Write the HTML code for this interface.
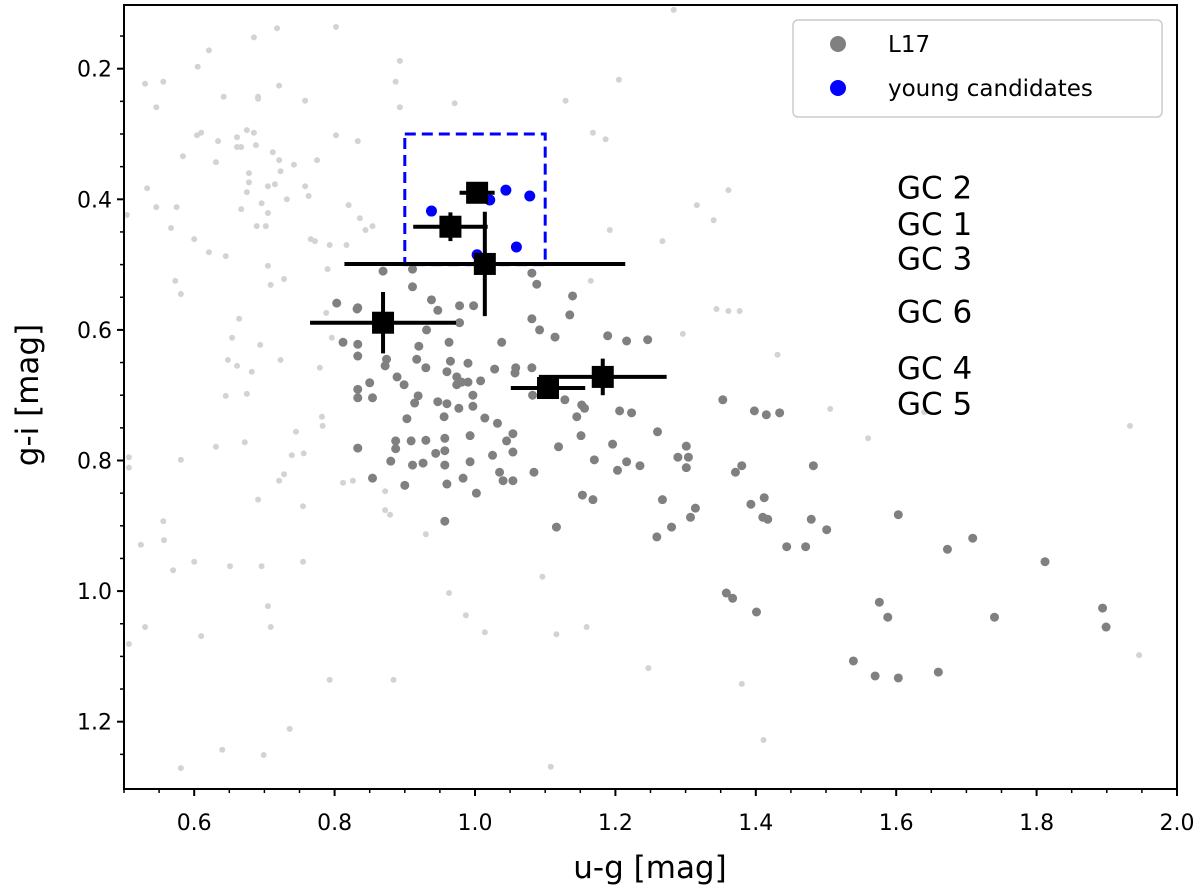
<!DOCTYPE html>
<html><head><meta charset="utf-8">
<style>
html,body{margin:0;padding:0;background:#fff;}
svg{display:block;font-family:"DejaVu Sans","Liberation Sans",sans-serif;}
</style></head>
<body>
<svg id="chart" width="1200" height="892" viewBox="0 0 1200 892"></svg>
<script>
// ---- data ----
const xTicks = [0.6,0.8,1.0,1.2,1.4,1.6,1.8,2.0];
const xTickLabels = ["0.6","0.8","1.0","1.2","1.4","1.6","1.8","2.0"];
const yTicks = [0.2,0.4,0.6,0.8,1.0,1.2];
const yTickLabels = ["0.2","0.4","0.6","0.8","1.0","1.2"];
const l17U = [0.911,0.803,0.833,0.938,0.947,0.978,0.998,0.978,0.931,0.812,0.833,0.833,0.920,0.963,1.038,0.874,0.872,0.917,0.930,0.965,0.990,0.960,0.974,0.981,0.990,1.008,0.974,1.028,1.058,1.057,1.081,0.889,0.899,0.850,0.833,0.833,0.854,0.919,0.914,0.947,0.960,0.997,0.997,0.977,0.956,0.903,1.014,1.032,1.081,1.092,1.114,1.088,1.081,1.139,1.135,1.189,1.216,1.246,1.082,1.128,1.152,1.156,1.145,1.206,1.223,1.260,1.151,1.119,1.196,1.170,1.216,1.235,1.203,1.301,1.289,1.304,1.301,1.267,1.153,1.168,1.084,1.054,1.045,1.054,1.025,1.035,1.040,1.054,1.002,0.993,0.993,0.983,0.960,0.957,0.957,0.957,0.944,0.930,0.909,0.887,0.887,0.880,0.911,0.926,0.833,0.854,0.900,0.957,1.116,1.314,1.307,1.280,1.259,1.353,1.398,1.415,1.434,1.371,1.380,1.482,1.393,1.412,1.410,1.417,1.479,1.501,1.444,1.471,1.603,1.673,1.709,1.812,1.358,1.367,1.401,1.576,1.588,1.740,1.894,1.899,1.539,1.570,1.603,1.660,0.869,0.911,0.832];
const l17G = [0.534,0.559,0.566,0.554,0.570,0.563,0.563,0.589,0.600,0.619,0.622,0.640,0.625,0.619,0.619,0.645,0.655,0.645,0.658,0.648,0.651,0.664,0.672,0.680,0.680,0.678,0.684,0.660,0.658,0.666,0.658,0.672,0.684,0.681,0.691,0.704,0.704,0.701,0.712,0.710,0.713,0.700,0.717,0.720,0.733,0.736,0.735,0.743,0.583,0.600,0.611,0.530,0.513,0.548,0.577,0.609,0.617,0.615,0.700,0.707,0.715,0.720,0.733,0.724,0.727,0.756,0.762,0.779,0.775,0.799,0.802,0.808,0.815,0.778,0.795,0.795,0.811,0.860,0.853,0.860,0.818,0.759,0.770,0.787,0.792,0.818,0.831,0.831,0.850,0.802,0.762,0.827,0.836,0.807,0.785,0.766,0.789,0.769,0.770,0.770,0.782,0.801,0.807,0.804,0.781,0.827,0.838,0.893,0.902,0.873,0.887,0.902,0.917,0.707,0.724,0.730,0.727,0.818,0.808,0.808,0.867,0.857,0.887,0.890,0.890,0.906,0.932,0.932,0.883,0.936,0.919,0.955,1.003,1.011,1.032,1.017,1.040,1.040,1.026,1.055,1.107,1.130,1.133,1.124,0.510,0.507,0.568];
const bgU = [0.718,0.802,0.685,0.621,0.605,0.893,0.530,0.556,0.721,0.887,0.642,0.691,0.691,0.758,0.546,0.893,0.604,0.610,0.675,0.685,0.661,0.802,0.833,0.634,0.661,0.667,0.688,0.584,0.712,0.721,0.631,0.742,0.775,0.723,0.678,0.678,0.675,0.705,0.715,0.758,0.533,0.763,0.732,0.696,0.546,0.575,0.667,0.705,0.820,0.504,0.836,0.689,0.702,0.567,0.854,0.844,0.600,0.766,0.772,0.793,0.817,0.621,0.645,0.705,0.790,0.728,0.573,0.709,0.581,0.788,0.664,0.654,0.796,0.694,0.648,0.723,0.661,0.682,0.779,0.645,0.675,0.782,0.783,0.745,0.672,0.631,0.507,0.507,0.581,0.739,0.756,0.728,0.721,0.812,0.826,0.872,0.872,0.879,0.691,0.755,0.556,0.524,0.557,0.570,0.600,0.651,0.696,0.755,0.705,0.530,0.709,0.610,0.507,0.793,0.884,0.736,0.640,0.699,0.581,0.930,0.963,0.987,1.014,1.096,1.116,1.159,1.247,1.380,1.411,1.108,1.946,1.283,1.205,0.971,1.129,1.168,1.186,1.361,1.316,1.340,1.192,1.267,1.165,1.344,1.361,1.377,1.296,1.431,1.506,1.560,1.933,1.640];
const bgG = [0.138,0.136,0.152,0.172,0.197,0.188,0.223,0.220,0.226,0.220,0.243,0.243,0.246,0.249,0.259,0.259,0.302,0.298,0.294,0.298,0.305,0.302,0.311,0.311,0.320,0.320,0.317,0.334,0.328,0.340,0.343,0.347,0.340,0.357,0.360,0.374,0.389,0.380,0.377,0.380,0.383,0.395,0.400,0.406,0.412,0.412,0.415,0.421,0.409,0.424,0.429,0.441,0.441,0.444,0.441,0.447,0.461,0.461,0.464,0.470,0.470,0.481,0.487,0.502,0.507,0.522,0.525,0.531,0.545,0.574,0.583,0.612,0.612,0.623,0.646,0.646,0.655,0.664,0.658,0.701,0.698,0.733,0.747,0.756,0.772,0.779,0.795,0.811,0.799,0.792,0.789,0.821,0.831,0.834,0.831,0.847,0.876,0.883,0.860,0.870,0.893,0.929,0.922,0.968,0.955,0.962,0.962,0.955,1.023,1.055,1.055,1.069,1.081,1.136,1.136,1.211,1.243,1.251,1.271,0.913,1.003,1.037,1.063,0.978,1.066,1.055,1.118,1.142,1.228,1.269,1.098,0.110,0.217,0.253,0.249,0.298,0.308,0.386,0.409,0.432,0.447,0.464,0.525,0.568,0.571,0.571,0.606,0.638,0.721,0.766,0.747,0.726];
const youngU = [0.938,1.021,1.044,1.078,1.059,1.003];
const youngG = [0.418,0.401,0.386,0.395,0.473,0.485];
const gcNames = ["GC 1","GC 2","GC 3","GC 4","GC 5","GC 6"];
const gcU = [0.965,1.003,1.014,1.182,1.104,0.869];
const gcG = [0.442,0.390,0.499,0.672,0.689,0.589];
const gcUErr = [0.053,0.025,0.200,0.091,0.053,0.104];
const gcGErr = [0.022,0.006,0.080,0.028,0.008,0.047];
const boxU = [0.9,1.1];
const boxG = [0.3,0.5];
const labelOrder = ["GC 2","GC 1","GC 3","GC 6","GC 4","GC 5"];
const labelG = [0.382,0.438,0.491,0.572,0.658,0.713];

// ---- axes ----
const L=124,R=1177,T=5,B=789;
const X0=0.5,X1=2.0;
const sx = v => L + (v-X0)/(X1-X0)*(R-L);
const sy = v => 134 + (v-0.3)*653;
const NS="http://www.w3.org/2000/svg";
const svg=document.getElementById('chart');
function mk(tag,attrs,parent){const e=document.createElementNS(NS,tag);for(const k in attrs)e.setAttribute(k,attrs[k]);(parent||svg).appendChild(e);return e;}

const gBg=mk('g',{});


bgU.forEach((u,i)=>{const c=mk('circle',{cx:sx(u),cy:sy(bgG[i]),r:3,fill:'#d3d3d3'},gBg);

});

const gL=mk('g',{});


l17U.forEach((u,i)=>{const c=mk('circle',{cx:sx(u),cy:sy(l17G[i]),r:4.5,fill:'#808080'},gL);

});

const gY=mk('g',{});


youngU.forEach((u,i)=>{const c=mk('circle',{cx:sx(u),cy:sy(youngG[i]),r:5.5,fill:'#0000ff'},gY);

});

const box=mk('rect',{x:sx(boxU[0]),y:sy(boxG[0]),width:sx(boxU[1])-sx(boxU[0]),height:sy(boxG[1])-sy(boxG[0]),fill:'none',stroke:'#0000ff','stroke-width':3,'stroke-dasharray':'11 6'});



const gGC=mk('g',{});


gcU.forEach((u,i)=>{
  const g=mk('g',{},gGC);
  
  
  const cx=sx(u),cy=sy(gcG[i]);
  mk('line',{x1:sx(u-gcUErr[i]),x2:sx(u+gcUErr[i]),y1:cy,y2:cy,stroke:'#000','stroke-width':4},g);
  mk('line',{x1:cx,x2:cx,y1:sy(gcG[i]-gcGErr[i]),y2:sy(gcG[i]+gcGErr[i]),stroke:'#000','stroke-width':4},g);
  mk('rect',{x:cx-11,y:cy-11,width:22,height:22,fill:'#000'},g);
});

labelOrder.forEach((n,i)=>{const t=mk('text',{x:897,y:sy(labelG[i])+11,'font-size':31,fill:'#000'});t.textContent=n;

});

// frame
const fr=mk('rect',{x:L,y:T,width:R-L,height:B-T,fill:'none',stroke:'#000','stroke-width':2});



// x ticks
for(let v=0.5;v<=2.0001;v+=0.05){mk('line',{x1:sx(v),x2:sx(v),y1:B,y2:B+4,stroke:'#000','stroke-width':1.5});}
xTicks.forEach((v,i)=>{mk('line',{x1:sx(v),x2:sx(v),y1:B,y2:B+7,stroke:'#000','stroke-width':2});
const t=mk('text',{x:sx(v),y:830,'font-size':22,'text-anchor':'middle'});t.textContent=xTickLabels[i];

});
// y ticks
for(let v=0.15;v<=1.3;v+=0.05){mk('line',{x1:L-4,x2:L,y1:sy(v),y2:sy(v),stroke:'#000','stroke-width':1.5});}
yTicks.forEach((v,i)=>{mk('line',{x1:L-7,x2:L,y1:sy(v),y2:sy(v),stroke:'#000','stroke-width':2});
const t=mk('text',{x:112,y:sy(v)+8,'font-size':22,'text-anchor':'end'});t.textContent=yTickLabels[i];

});

const xt=mk('text',{x:650,y:878,'font-size':31,'text-anchor':'middle'});xt.textContent='u-g [mag]';


const yt=mk('text',{x:0,y:0,'font-size':31,'text-anchor':'middle',transform:'translate(38,395) rotate(-90)'});yt.textContent='g-i [mag]';



// legend
const lg=mk('g',{});


mk('rect',{x:793,y:20,width:369,height:97,rx:5,fill:'#fff',stroke:'#ccc','stroke-width':1.5},lg);
const e1=mk('g',{},lg);


mk('circle',{cx:838,cy:44,r:8,fill:'#808080'},e1);
const t1=mk('text',{x:888,y:52,'font-size':23},e1);t1.textContent='L17';
const e2=mk('g',{},lg);


mk('circle',{cx:838,cy:88,r:8,fill:'#0000ff'},e2);
const t2=mk('text',{x:888,y:96,'font-size':23},e2);t2.textContent='young candidates';
</script>
</body></html>
